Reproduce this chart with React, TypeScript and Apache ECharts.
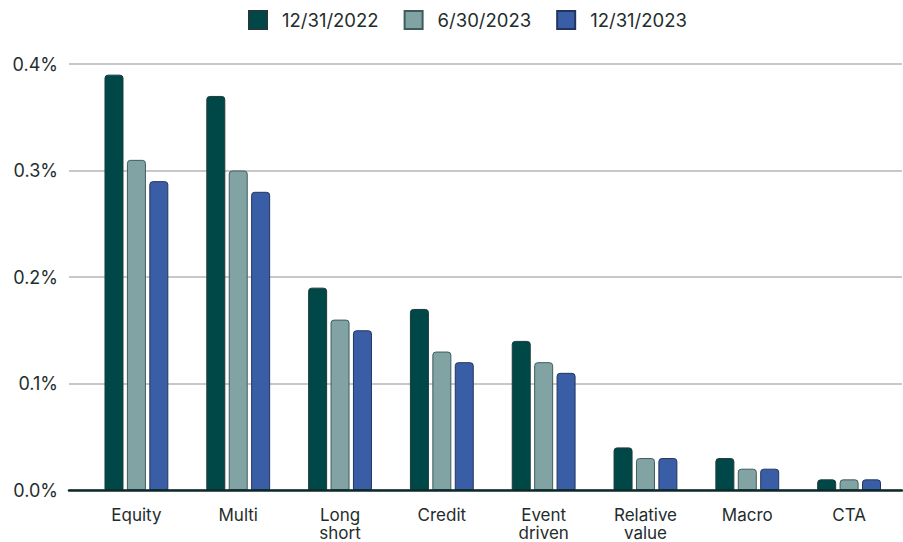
import React, { useEffect, useRef } from "react";
import * as echarts from "echarts";

const categories = ["Equity", "Multi", "Long\nshort", "Credit", "Event\ndriven", "Relative\nvalue", "Macro", "CTA"];
const seriesNames = ["12/31/2022", "6/30/2023", "12/31/2023"];
const dec2022 = [0.39, 0.37, 0.19, 0.17, 0.14, 0.04, 0.03, 0.01];
const jun2023 = [0.31, 0.30, 0.16, 0.13, 0.12, 0.03, 0.02, 0.01];
const dec2023 = [0.29, 0.28, 0.15, 0.12, 0.11, 0.03, 0.02, 0.01];
const yTicks = [0, 0.1, 0.2, 0.3, 0.4];

const colors = ["#004848", "#82a3a3", "#3a5ea6"];
const borders = ["#1e3a3a", "#3e5c5c", "#23355e"];
const textColor = "#1f2d2d";
const font = "Inter, 'Liberation Sans', sans-serif";

export default function App() {
  const ref = useRef<HTMLDivElement>(null);

  useEffect(() => {
    if (!ref.current) return;
    const chart = echarts.init(ref.current, null, { renderer: "svg" });
    const values = [dec2022, jun2023, dec2023];
    const yMax = yTicks[yTicks.length - 1];

    chart.setOption({
      animation: false,
      textStyle: { fontFamily: font },
      legend: {
        top: 5,
        left: 243,
        itemWidth: 18,
        itemHeight: 18,
        itemGap: 25,
        icon: "rect",
        data: seriesNames,
        textStyle: {
          color: textColor,
          fontSize: 18.5,
          fontFamily: font,
          padding: [0, 0, 0, 10],
        },
      },
      grid: [
        { left: 69, right: 1, top: 64, bottom: 52, containLabel: false, outerBoundsMode: "none" },
        { left: 85.5, right: 3, top: 64, bottom: 52, containLabel: false, outerBoundsMode: "none" },
      ],
      xAxis: [
        {
          type: "category",
          gridIndex: 0,
          data: categories,
          axisLine: { show: true, lineStyle: { color: "#0d2828", width: 2.5 } },
          axisTick: { show: false },
          axisLabel: { show: false },
          splitLine: { show: false },
          z: 5,
        },
        {
          type: "category",
          gridIndex: 1,
          data: categories,
          axisLine: { show: false },
          axisTick: { show: false },
          axisLabel: {
            color: textColor,
            fontSize: 17,
            fontFamily: font,
            margin: 15.5,
            lineHeight: 18,
          },
        },
      ],
      yAxis: [
        {
          type: "value",
          gridIndex: 0,
          min: 0,
          max: yMax,
          interval: 0.1,
          axisLine: { show: false },
          axisTick: { show: false },
          axisLabel: {
            color: textColor,
            fontSize: 18,
            fontFamily: font,
            margin: 11,
            formatter: (v: number) => v.toFixed(1) + "%",
          },
          splitLine: { show: true, lineStyle: { color: "#c8c8c8", width: 2 } },
        },
        {
          type: "value",
          gridIndex: 1,
          min: 0,
          max: yMax,
          interval: 0.1,
          show: false,
          splitLine: { show: false },
        },
      ],
      series: seriesNames.map((name, i) => ({
        name,
        type: "bar",
        xAxisIndex: 1,
        yAxisIndex: 1,
        data: values[i],
        barWidth: 19,
        barGap: "18%",
        z: 3,
        itemStyle: {
          color: colors[i],
          borderColor: borders[i],
          borderWidth: 1,
          borderRadius: [3, 3, 0, 0],
        },
      })),
    });

    return () => chart.dispose();
  }, []);

  return (
    <div
      ref={ref}
      style={{ position: "fixed", left: 0, top: 0, width: 903, height: 542, background: "#ffffff" }}
    />
  );
}
